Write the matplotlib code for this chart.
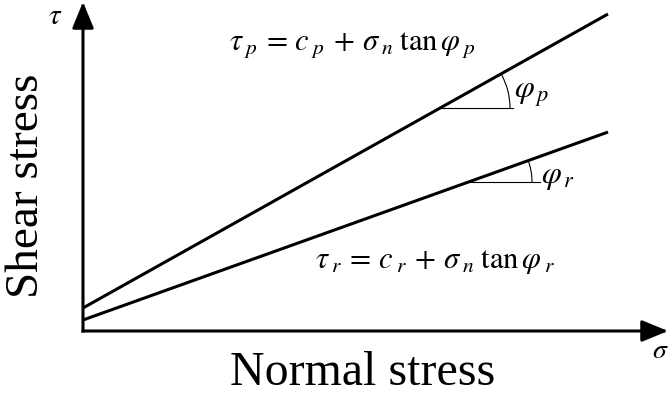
"""Mohr-Coulomb peak / residual strength envelopes (schematic)."""

import numpy as np
import matplotlib

matplotlib.use("Agg")
import matplotlib.pyplot as plt  # noqa: E402
from matplotlib.patches import Arc  # noqa: E402

plt.rcParams["font.family"] = ["Liberation Serif", "DejaVu Serif"]
plt.rcParams["mathtext.fontset"] = "stix"

# envelopes: tau = c + sigma_n * tan(phi)   (arbitrary units)
envelopes = ["p", "r"]
cohesion = [0.23, 0.11]
tan_phi = [0.56, 0.358]
sigma_end = [5.25, 5.25]

# where the friction angle is marked on each envelope
angle_sigma = [3.57, 3.85]
arc_radius = [0.70, 0.64]
ref_length = [0.73, 0.72]

x_axis_end = 5.85
y_axis_end = 3.29

fig = plt.figure(figsize=(6.7, 3.95), dpi=100)
ax = fig.add_axes([0, 0, 1, 1])
ax.set_xlim(-0.83, 5.87)
ax.set_ylim(-0.64, 3.31)
ax.set_aspect("equal")
ax.axis("off")

# axes with arrow heads
arrow = dict(arrowstyle="-|>,head_length=0.8,head_width=0.33", mutation_scale=20,
             lw=2.2, color="k", shrinkA=0, shrinkB=0, capstyle="projecting")
ax.annotate("", xy=(0, y_axis_end), xytext=(0, 0), arrowprops=arrow)
ax.annotate("", xy=(x_axis_end, 0), xytext=(0, 0), arrowprops=arrow)

for c, t, s_end, s0, r, L in zip(cohesion, tan_phi, sigma_end,
                                 angle_sigma, arc_radius, ref_length):
    sig = np.array([0.0, s_end])
    ax.plot(sig, c + t * sig, color="k", lw=2.2, solid_capstyle="butt")

    # friction angle: horizontal reference + arc
    y0 = c + t * s0
    ax.plot([s0, s0 + L], [y0, y0], color="k", lw=0.8)
    ang = np.degrees(np.arctan(t))
    ax.add_patch(Arc((s0, y0), 2 * r, 2 * r, theta1=0, theta2=ang,
                     color="k", lw=0.8))

eq = r"$\tau_{\;%s} \,=\, c_{\;%s} \,+\, \sigma_{\;n}\;\mathrm{tan}\,\varphi_{\;%s}$"
ax.text(2.69, 2.86, eq % ("p", "p", "p"), fontsize=22, ha="center", va="center")
ax.text(3.52, 0.69, eq % ("r", "r", "r"), fontsize=22, ha="center", va="center")
ax.text(4.49, 2.37, r"$\varphi_{\,p}$", fontsize=23, ha="center", va="center")
ax.text(4.75, 1.54, r"$\varphi_{\,r}$", fontsize=23, ha="center", va="center")

ax.text(-0.28, 3.14, r"$\tau$", fontsize=21, ha="center", va="center")
ax.text(5.77, -0.20, r"$\sigma$", fontsize=20, ha="center", va="center")

ax.text(2.80, -0.54, "Normal stress", fontsize=34.5, ha="center", va="baseline")
ax.text(-0.56, 1.45, "Shear stress", fontsize=34, rotation=90,
        ha="center", va="center")

fig.savefig("out.png", dpi=100)
